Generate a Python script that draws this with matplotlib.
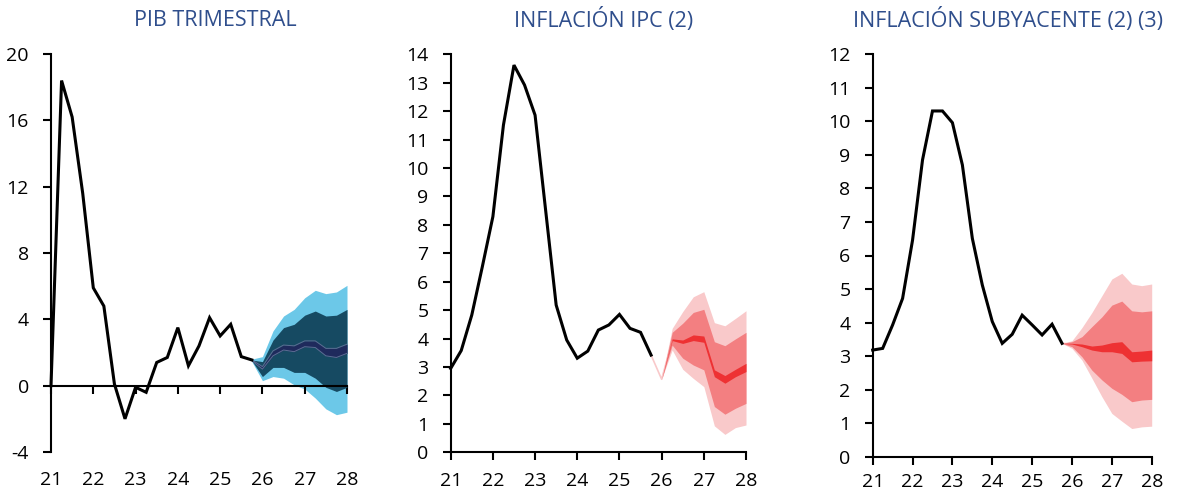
import numpy as np
import matplotlib
matplotlib.use("Agg")
import matplotlib.pyplot as plt

plt.rcParams['font.family'] = ['Open Sans', 'DejaVu Sans']

# ---------------- data ----------------
quarters = 21 + np.arange(29) / 4.0          # 2021Q1 ... 2028Q1 (x axis, years)
year_ticks = [21, 22, 23, 24, 25, 26, 27, 28]
year_labels = ['21', '22', '23', '24', '25', '26', '27', '28']

titles = ['PIB TRIMESTRAL', 'INFLACIÓN IPC (2)', 'INFLACIÓN SUBYACENTE (2) (3)']

# PIB trimestral (observed, i = 0..19)
gdp_obs = [0.0, 18.4, 16.2, 11.6, 5.9, 4.8, 0.1, -2.0, -0.1, -0.4,
           1.4, 1.7, 3.5, 1.2, 2.4, 4.1, 3.0, 3.7, 1.75, 1.55]
# GDP fan (i = 19..28)
gdp_out_hi = [1.6, 1.75, 3.3, 4.2, 4.6, 5.3, 5.75, 5.55, 5.65, 6.05]
gdp_in_hi = [1.55, 1.45, 2.75, 3.5, 3.7, 4.25, 4.5, 4.2, 4.25, 4.6]
gdp_c_hi = [1.55, 1.15, 2.1, 2.45, 2.4, 2.7, 2.7, 2.25, 2.25, 2.5]
gdp_c_lo = [1.5, 1.0, 1.8, 2.15, 2.05, 2.35, 2.3, 1.8, 1.7, 1.95]
gdp_in_lo = [1.5, 0.55, 1.1, 1.1, 0.8, 0.8, 0.45, -0.1, -0.35, -0.1]
gdp_out_lo = [1.45, 0.3, 0.55, 0.45, 0.05, -0.2, -0.75, -1.4, -1.75, -1.6]

# Inflación IPC (observed, i = 0..19)
cpi_obs = [2.95, 3.58, 4.83, 6.53, 8.29, 11.51, 13.62, 12.92, 11.86, 8.52,
           5.18, 3.95, 3.31, 3.56, 4.30, 4.48, 4.85, 4.36, 4.22, 3.42]
# CPI fan (i = 19..28)
cpi_out_hi = [3.42, 2.57, 4.36, 4.95, 5.47, 5.65, 4.56, 4.45, 4.71, 4.98]
cpi_in_hi = [3.42, 2.57, 4.22, 4.54, 4.92, 5.03, 3.89, 3.75, 3.99, 4.22]
cpi_c_hi = [3.42, 2.57, 3.99, 3.95, 4.13, 4.09, 2.90, 2.70, 2.92, 3.13]
cpi_c_lo = [3.42, 2.57, 3.93, 3.83, 3.93, 3.87, 2.66, 2.43, 2.66, 2.84]
cpi_in_lo = [3.42, 2.57, 3.77, 3.31, 3.07, 2.90, 1.61, 1.34, 1.55, 1.72]
cpi_out_lo = [3.42, 2.57, 3.60, 2.92, 2.60, 2.31, 0.93, 0.63, 0.87, 0.96]

# Inflación subyacente (observed, i = 0..19)
core_obs = [3.18, 3.23, 3.93, 4.72, 6.46, 8.85, 10.31, 10.31, 9.96, 8.70,
            6.51, 5.12, 4.03, 3.38, 3.65, 4.22, 3.93, 3.63, 3.95, 3.38]
core_out_hi = [3.38, 3.46, 3.85, 4.3, 4.8, 5.3, 5.47, 5.15, 5.1, 5.15]
core_in_hi = [3.38, 3.43, 3.58, 3.88, 4.17, 4.52, 4.64, 4.35, 4.32, 4.35]
core_c_hi = [3.38, 3.38, 3.36, 3.30, 3.33, 3.40, 3.43, 3.13, 3.15, 3.18]
core_c_lo = [3.38, 3.36, 3.28, 3.18, 3.13, 3.13, 3.08, 2.83, 2.85, 2.86]
core_in_lo = [3.38, 3.28, 2.98, 2.58, 2.29, 2.04, 1.86, 1.64, 1.69, 1.71]
core_out_lo = [3.38, 3.23, 2.88, 2.34, 1.79, 1.29, 1.06, 0.84, 0.89, 0.91]

# ---------------- style ----------------
W, H = 1186, 491
fig = plt.figure(figsize=(W / 100, H / 100), dpi=100)

TITLE_C = '#2F4E8C'
BLUE_L, BLUE_D, BLUE_N = '#6CC8E8', '#164A62', '#1F2A5C'
PINK_L, PINK_M, RED = '#F9C9CA', '#F37F81', '#EE3133'

def box(l, r, t, b):
    return [l / W, 1 - b / H, (r - l) / W, (b - t) / H]

specs = [
    dict(rect=box(51, 347, 54, 452), ylim=(-4, 20), yt=np.arange(-4, 21, 4),
         obs=gdp_obs, fan=(gdp_out_lo, gdp_out_hi, gdp_in_lo, gdp_in_hi, gdp_c_lo, gdp_c_hi),
         cols=(BLUE_L, BLUE_D, BLUE_N), title_x=215, xpad=8),
    dict(rect=box(450.7, 746, 54.3, 452.3), ylim=(0, 14), yt=np.arange(0, 15, 1),
         obs=cpi_obs, fan=(cpi_out_lo, cpi_out_hi, cpi_in_lo, cpi_in_hi, cpi_c_lo, cpi_c_hi),
         cols=(PINK_L, PINK_M, RED), title_x=604, xpad=8),
    dict(rect=box(872.7, 1151.7, 54.3, 456.7), ylim=(0, 12), yt=np.arange(0, 13, 1),
         obs=core_obs, fan=(core_out_lo, core_out_hi, core_in_lo, core_in_hi, core_c_lo, core_c_hi),
         cols=(PINK_L, PINK_M, RED), title_x=1008, xpad=5.5),
]

TICK_FS = 14
for k, s in enumerate(specs):
    ax = fig.add_axes(s['rect'])
    ax.set_xlim(21, 28)
    ax.set_ylim(*s['ylim'])
    for side in ('top', 'right'):
        ax.spines[side].set_visible(False)
    for side in ('left', 'bottom'):
        ax.spines[side].set_linewidth(1.5)
        ax.spines[side].set_zorder(5)
    ax.set_yticks(s['yt'])
    ax.set_yticklabels([str(int(v)) for v in s['yt']])
    ax.set_xticks(year_ticks)
    ax.tick_params(axis='both', direction='out', length=6, width=1.5,
                   labelsize=TICK_FS, color='black')
    ax.tick_params(axis='y', pad=10)

    nf = len(s['fan'][0])
    xf = quarters[-nf:]
    lo_o, hi_o, lo_i, hi_i, lo_c, hi_c = s['fan']
    c_o, c_i, c_c = s['cols']
    ax.fill_between(xf, lo_o, hi_o, color=c_o, lw=0, zorder=1)
    ax.fill_between(xf, lo_i, hi_i, color=c_i, lw=0, zorder=2)
    ax.fill_between(xf, lo_c, hi_c, color=c_c, lw=0, zorder=3)
    if k == 0:
        ax.plot(xf, lo_c, color='#5B6E93', lw=0.7, zorder=3.5)
        ax.plot(xf, hi_c, color='#5B6E93', lw=0.7, zorder=3.5)
    else:
        ax.plot(xf[:3], np.array(lo_c[:3]), color=PINK_L, lw=1.2, zorder=1.5)

    nobs = len(s['obs'])
    ax.plot(quarters[:nobs], s['obs'], color='black', lw=2.2, zorder=4,
            clip_on=False, solid_joinstyle='miter')

    if k == 0:
        ax.spines['bottom'].set_position(('data', 0))
        ax.tick_params(axis='x', labelbottom=False)
        sec = ax.secondary_xaxis('bottom')
        sec.set_xticks(year_ticks)
        sec.set_xticklabels(year_labels)
        sec.spines['bottom'].set_visible(False)
        sec.tick_params(axis='x', length=0, pad=14, labelsize=TICK_FS)
    else:
        ax.set_xticklabels(year_labels)
        ax.tick_params(axis='x', pad=s['xpad'])

    fig.text(s['title_x'] / W, 1 - 20.5 / H, titles[k], ha='center', va='center',
             fontsize=15.5, color=TITLE_C)

fig.savefig('out.png', dpi=100)
